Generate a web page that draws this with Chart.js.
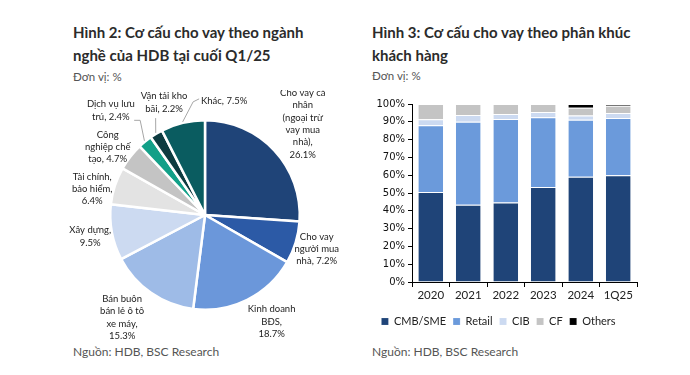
<!DOCTYPE html>
<html>
<head>
<meta charset="utf-8">
<script src="https://cdn.jsdelivr.net/npm/chart.js@4.4.1/dist/chart.umd.min.js"></script>
<style>
  body { margin: 0; background: #fff; font-family: Lato, sans-serif; }
  #wrap { position: relative; width: 690px; height: 375px; overflow: hidden; }
  .title { position: absolute; font-weight: bold; font-size: 15px; line-height: 23px; color: #2b2b2b; }
  .unit { position: absolute; font-size: 11.5px; color: #555; }
  .src { position: absolute; font-size: 12px; color: #555; }
  canvas { position: absolute; }
</style>
</head>
<body>
<div id="wrap">
  <div class="title" style="left:73px;top:21px;">Hình 2: Cơ cấu cho vay theo ngành<br>nghề của HDB tại cuối Q1/25</div>
  <div class="unit" style="left:73px;top:70px;">Đơn vị: %</div>
  <div class="src" style="left:73px;top:344px;">Nguồn: HDB, BSC Research</div>

  <div class="title" style="left:372px;top:21px;">Hình 3: Cơ cấu cho vay theo phân khúc<br>khách hàng</div>
  <div class="unit" style="left:372px;top:69px;">Đơn vị: %</div>
  <div class="src" style="left:372px;top:344px;">Nguồn: HDB, BSC Research</div>

  <div style="position:absolute;left:60px;top:90px;width:290px;height:250px;"><canvas id="pie-chart"></canvas></div>
  <div style="position:absolute;left:360px;top:95px;width:290px;height:250px;"><canvas id="bar-chart"></canvas></div>
</div>
<script>
// ---- Hình 2: cơ cấu theo ngành nghề (Q1/25)
const nganhNghe = ['Cho vay cá nhân (ngoại trừ vay mua nhà)', 'Cho vay người mua nhà', 'Kinh doanh BĐS',
  'Bán buôn bán lẻ ô tô xe máy', 'Xây dựng', 'Tài chính, bảo hiểm', 'Công nghiệp chế tạo',
  'Dịch vụ lưu trú', 'Vận tải kho bãi', 'Khác'];
const tyTrong = [26.1, 7.2, 18.7, 15.3, 9.5, 6.4, 4.7, 2.4, 2.2, 7.5];
const mauNganh = ['#1F4478', '#2C5AA6', '#6B97DA', '#9EBBE7', '#CCDAF1', '#E3E3E3', '#C4C4C4', '#12A088', '#0D3B40', '#0A5C60'];

// cách xuống dòng của nhãn, {v} = giá trị
const nhanPie = ['Cho vay cá|nhân|(ngoại trừ|vay mua|nhà),|{v}%', 'Cho vay|người mua|nhà, {v}%', 'Kinh doanh|BĐS,|{v}%',
  'Bán buôn|bán lẻ ô tô|xe máy,|{v}%', 'Xây dựng,|{v}%', 'Tài chính,|bảo hiểm,|{v}%', 'Công|nghiệp chế|tạo, {v}%',
  'Dịch vụ lưu|trú, {v}%', 'Vận tải kho|bãi, {v}%', 'Khác, {v}%'];
// vị trí nhãn: góc (độ, tính từ 12h, null = giữa lát) và khoảng cách ngoài bán kính
const viTriNhan = [
  {a: null, d: 39}, {a: null, d: 22}, {a: 148, d: 31}, {a: 219, d: 37}, {a: null, d: 22},
  {a: 283, d: 21}, {a: 305, d: 24}, {a: 318, d: 46}, {a: 340, d: 25}, {a: 9.5, d: 21}
];
const duongDan = {7: {a: 325.6, d: 20, tick: -6}, 8: {a: 333, d: 14}, 9: {a: 354, d: 19, tick: 6}};

// ---- Hình 3: cơ cấu theo phân khúc khách hàng
const nam = ['2020', '2021', '2022', '2023', '2024', '1Q25'];
const cmbSme = [50.6, 43.4, 44.7, 53.4, 59.1, 60.0];
const retail = [37.5, 46.6, 46.9, 39.1, 32.0, 32.1];
const cib = [3.4, 3.8, 2.8, 3.0, 2.5, 2.8];
const cf = [8.5, 6.2, 5.6, 4.5, 4.3, 4.1];
const others = [0, 0, 0, 0, 2.1, 1.0];

const pieLabels = {
  id: 'pieLabels',
  afterDatasetsDraw(chart) {
    const ctx = chart.ctx;
    const arcs = chart.getDatasetMeta(0).data;
    const rad = deg => (deg - 90) * Math.PI / 180;
    ctx.save();
    ctx.font = '9.5px Lato';
    ctx.fillStyle = '#222';
    ctx.textBaseline = 'middle';
    // duong dan
    ctx.strokeStyle = '#A6A6A6';
    ctx.lineWidth = 1;
    Object.keys(duongDan).forEach(k => {
      const arc = arcs[k], g = duongDan[k];
      const mid = (arc.startAngle + arc.endAngle) / 2;
      const r0 = arc.outerRadius + 1;
      const r1 = arc.outerRadius + g.d;
      const ex = arc.x + Math.cos(rad(g.a)) * r1, ey = arc.y + Math.sin(rad(g.a)) * r1;
      ctx.beginPath();
      ctx.moveTo(arc.x + Math.cos(mid) * r0, arc.y + Math.sin(mid) * r0);
      ctx.lineTo(ex, ey);
      if (g.tick) ctx.lineTo(ex + g.tick, ey - (g.tick > 0 ? 3 : 0));
      ctx.stroke();
    });
    arcs.forEach((arc, i) => {
      const p = viTriNhan[i];
      const mid = (arc.startAngle + arc.endAngle) / 2;
      const ang = p.a == null ? mid : rad(p.a);
      const r = arc.outerRadius + p.d;
      const x = arc.x + Math.cos(ang) * r, y = arc.y + Math.sin(ang) * r;
      const lines = nhanPie[i].replace('{v}', tyTrong[i].toFixed(1)).split('|');
      const lh = 12.3;
      ctx.textAlign = 'center';
      lines.forEach((t, j) => {
        ctx.fillText(t, x, y + (j - (lines.length - 1) / 2) * lh);
      });
    });
    ctx.restore();
  }
};

const pieConfig = {
  type: 'pie',
  data: {
    labels: nganhNghe,
    datasets: [{
      data: tyTrong,
      backgroundColor: mauNganh,
      borderColor: '#fff',
      borderWidth: 2.5
    }]
  },
  options: {
    responsive: true,
    maintainAspectRatio: false,
    animation: false,
    layout: { padding: { top: 29, bottom: 29, left: 49, right: 49 } },
    plugins: { legend: { display: false }, tooltip: { enabled: false } }
  },
  plugins: [pieLabels]
};

const barConfig = {
  type: 'bar',
  data: {
    labels: nam,
    datasets: [
      { label: 'CMB/SME', data: cmbSme, backgroundColor: '#1F4478' },
      { label: 'Retail', data: retail, backgroundColor: '#6B9ADB' },
      { label: 'CIB', data: cib, backgroundColor: '#CCDAF1' },
      { label: 'CF', data: cf, backgroundColor: '#C4C4C4' },
      { label: 'Others', data: others, backgroundColor: '#000000' }
    ].map(d => Object.assign(d, {
      stack: 's',
      barPercentage: 0.66,
      categoryPercentage: 1,
      borderColor: 'rgba(255,255,255,0.55)',
      borderWidth: { top: 1, bottom: 0, left: 0, right: 0 },
      borderSkipped: false
    }))
  },
  options: {
    responsive: true,
    maintainAspectRatio: false,
    animation: false,
    layout: { padding: { top: 8, right: 13, bottom: 8, left: 0 } },
    plugins: {
      tooltip: { enabled: false },
      legend: {
        position: 'bottom',
        labels: {
          boxWidth: 7, boxHeight: 7, padding: 7,
          color: '#222',
          font: { family: 'Lato', size: 11 }
        }
      }
    },
    scales: {
      x: {
        stacked: true,
        grid: { offset: true, drawOnChartArea: false, tickLength: 5, color: '#000' },
        border: { color: '#000', width: 1 },
        ticks: { color: '#222', padding: 1, font: { family: 'Lato', size: 11.5 } },
        afterFit: s => { s.height = 27; }
      },
      y: {
        stacked: true,
        min: 0, max: 100,
        grid: { drawOnChartArea: false, tickLength: 4, color: '#000' },
        border: { color: '#000', width: 1 },
        ticks: { stepSize: 10, color: '#111', padding: 3, font: { family: 'DejaVu Sans', size: 10 },
          callback: v => v + '%' },
        afterFit: s => { s.width = 52; }
      }
    }
  }
};

window.onload = function() {
  new Chart(document.getElementById('pie-chart').getContext('2d'), pieConfig);
  new Chart(document.getElementById('bar-chart').getContext('2d'), barConfig);
};
</script>
</body>
</html>
